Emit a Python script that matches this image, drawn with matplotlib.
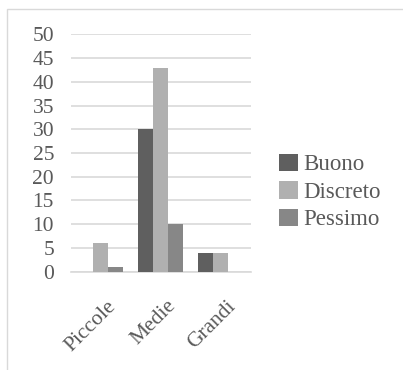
import numpy as np
import matplotlib
matplotlib.use("Agg")
import matplotlib.pyplot as plt
import matplotlib.patches as mpatch

categories = ["Piccole", "Medie", "Grandi"]
series = ["Buono", "Discreto", "Pessimo"]
buono = [0, 30, 4]
discreto = [6, 43, 4]
pessimo = [1, 10, 0]
colors = ["#5f5f5f", "#b0b0b0", "#878787"]

plt.rcParams['font.family'] = ['Liberation Serif', 'DejaVu Serif']
text_col = "#595959"
grid_col = "#d9d9d9"

fig = plt.figure(figsize=(4.03, 3.70), dpi=100)
ax = fig.add_axes([70.7 / 403, 1 - 271.7 / 370, 180 / 403, 237.4 / 370])

x = np.arange(len(categories))
w = 0.25
for i, (vals, name) in enumerate(zip([buono, discreto, pessimo], series)):
    ax.bar(x + (i - 1) * w, vals, w, color=colors[i], label=name, zorder=3)

ax.set_xlim(-0.5, 2.5)
ax.set_ylim(0, 50)
ax.set_yticks(np.arange(0, 51, 5))
ax.set_xticks(x + 0.1)
ax.set_xticklabels(categories, rotation=45, ha='right', va='top',
                   rotation_mode='anchor', fontsize=16.5)
ax.yaxis.grid(True, color=grid_col, lw=1.2, zorder=0)
ax.tick_params(length=0, labelsize=15.5, colors=text_col)
ax.tick_params(axis='y', pad=12)
ax.tick_params(axis='x', pad=18)
for s in ['top', 'right', 'left']:
    ax.spines[s].set_visible(False)
ax.spines['bottom'].set_color(grid_col)
ax.spines['bottom'].set_linewidth(1.2)

fig.legend(loc='center left', bbox_to_anchor=(268 / 403, 1 - 192 / 370),
           frameon=False, fontsize=16.5, handlelength=0.8, handleheight=0.8,
           handletextpad=0.25, labelspacing=0.25, labelcolor=text_col,
           borderpad=0)

# outer frame of the chart area
fig.patches.append(mpatch.Rectangle((7.3 / 403, -0.1), 1.2, 1 - 9 / 370 + 0.1,
                                    transform=fig.transFigure, fill=False,
                                    edgecolor=grid_col, lw=1))

fig.savefig("out.png", dpi=100)
